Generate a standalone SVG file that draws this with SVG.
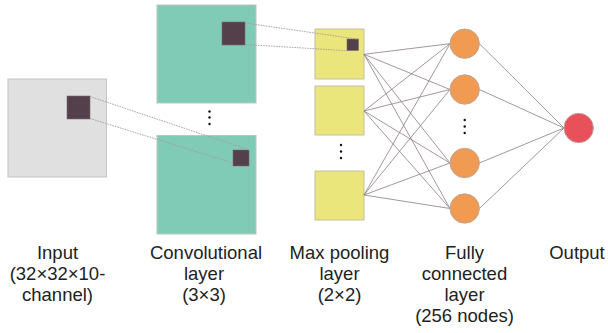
<svg xmlns="http://www.w3.org/2000/svg" width="608" height="333" viewBox="0 0 608 333">
<style>
.inp{fill:#e0e0e0;stroke:#c4c4c4;stroke-width:1}
.conv{fill:#80cbb5;stroke:#b8c8c0;stroke-width:1}
.pool{fill:#ebe67c;stroke:#c4c0a0;stroke-width:1}
.k{fill:#54404a;stroke:#7a6a70;stroke-width:0.6}
.fc{fill:#f09a52;stroke:#c0a898;stroke-width:1}
.out{fill:#e8505a;stroke:#c8a0a0;stroke-width:1}
.dot{fill:#111}
.dl{stroke:#a89a9c;stroke-width:0.9;stroke-dasharray:1.6 1;fill:none}
.ln{stroke:#8c7c80;stroke-width:0.8;fill:none}
text{font-family:"Liberation Sans",Arial,sans-serif;font-size:18.5px;fill:#222;text-anchor:middle}
</style>
<rect width="608" height="333" fill="#fff"/>
<g id="input">
<rect class="inp" x="8" y="79" width="98.5" height="98"/>
<rect class="k" x="67" y="96" width="23" height="23"/>
</g>
<g id="conv-top">
<rect class="conv" x="157" y="5" width="99" height="98"/>
<rect class="k" x="222" y="22" width="23" height="23"/>
</g>
<g id="conv-dots">
<circle class="dot" cx="209.5" cy="111.5" r="1.2"/>
<circle class="dot" cx="209.5" cy="117.5" r="1.2"/>
<circle class="dot" cx="209.5" cy="124" r="1.2"/>
</g>
<g id="conv-bottom">
<rect class="conv" x="157" y="135.5" width="99" height="98.5"/>
<rect class="k" x="233" y="150" width="16" height="16"/>
</g>
<g id="pool-1">
<rect class="pool" x="315" y="29" width="49" height="50"/>
<rect class="k" x="347" y="39" width="11.5" height="11.5"/>
</g>
<g id="pool-2">
<rect class="pool" x="315" y="86" width="49" height="49"/>
</g>
<g id="pool-dots">
<circle class="dot" cx="341" cy="145" r="1.2"/>
<circle class="dot" cx="341" cy="151.5" r="1.2"/>
<circle class="dot" cx="341" cy="158" r="1.2"/>
</g>
<g id="pool-3">
<rect class="pool" x="315" y="171" width="49" height="49"/>
</g>
<g id="connectors">
<line class="dl" x1="90" y1="96.5" x2="249" y2="150"/>
<line class="dl" x1="90" y1="118.5" x2="233" y2="163"/>
<line class="dl" x1="245" y1="23" x2="358.5" y2="39.3"/>
<line class="dl" x1="245" y1="44.5" x2="347" y2="50.7"/>
<line class="ln" x1="364" y1="54.3" x2="450" y2="43.7"/>
<line class="ln" x1="364" y1="54.3" x2="450" y2="89.5"/>
<line class="ln" x1="364" y1="54.3" x2="450" y2="163"/>
<line class="ln" x1="364" y1="54.3" x2="450" y2="208.5"/>
<line class="ln" x1="364" y1="111" x2="450" y2="43.7"/>
<line class="ln" x1="364" y1="111" x2="450" y2="89.5"/>
<line class="ln" x1="364" y1="111" x2="450" y2="163"/>
<line class="ln" x1="364" y1="111" x2="450" y2="208.5"/>
<line class="ln" x1="364" y1="195" x2="450" y2="43.7"/>
<line class="ln" x1="364" y1="195" x2="450" y2="89.5"/>
<line class="ln" x1="364" y1="195" x2="450" y2="163"/>
<line class="ln" x1="364" y1="195" x2="450" y2="208.5"/>
<line class="ln" x1="479.4" y1="43.7" x2="564" y2="128"/>
<line class="ln" x1="479.4" y1="89.5" x2="564" y2="128"/>
<line class="ln" x1="479.4" y1="163" x2="564" y2="128"/>
<line class="ln" x1="479.4" y1="208.5" x2="564" y2="128"/>
</g>
<g id="fc-1"><circle class="fc" cx="464.7" cy="43.7" r="14.7"/></g>
<g id="fc-2"><circle class="fc" cx="464.7" cy="89.5" r="14.7"/></g>
<g id="fc-dots">
<circle class="dot" cx="464.7" cy="120" r="1.2"/>
<circle class="dot" cx="464.7" cy="126.5" r="1.2"/>
<circle class="dot" cx="464.7" cy="133" r="1.2"/>
</g>
<g id="fc-3"><circle class="fc" cx="464.7" cy="163" r="14.7"/></g>
<g id="fc-4"><circle class="fc" cx="464.7" cy="208.5" r="14.7"/></g>
<g id="output"><circle class="out" cx="578.7" cy="128" r="14.7"/></g>
<g id="labels">
<text x="57.5" y="258.5">Input</text>
<text x="57.5" y="279.7">(32×32×10-</text>
<text x="57.5" y="300.9">channel)</text>
<text x="206" y="258.5">Convolutional</text>
<text x="204" y="279.7">layer</text>
<text x="204" y="300.9">(3×3)</text>
<text x="339.5" y="258.5">Max pooling</text>
<text x="339.5" y="279.7">layer</text>
<text x="339.5" y="300.9">(2×2)</text>
<text x="464.5" y="258.5">Fully</text>
<text x="464.5" y="279.7">connected</text>
<text x="464.5" y="300.9">layer</text>
<text x="464.5" y="322.1">(256 nodes)</text>
<text x="577" y="258.5">Output</text>
</g>
</svg>
